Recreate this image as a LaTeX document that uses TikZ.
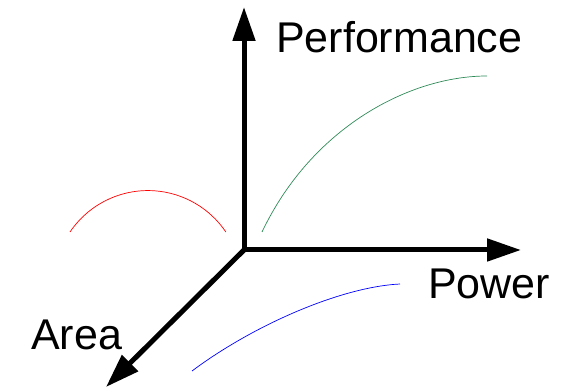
\documentclass[tikz,border=0pt]{standalone}
\usepackage{fontspec}
\setmainfont{Liberation Sans}
\usetikzlibrary{arrows.meta}
\definecolor{curvegreen}{RGB}{46,139,87}
\begin{document}
\begin{tikzpicture}[x=1pt,y=1pt,
		axis/.style={line width=5pt,-{Triangle[length=34pt,width=22pt]}},
		lbl/.style={anchor=base west,inner sep=0pt,font=\fontsize{43}{50}\selectfont},
		curve/.style={line width=0.7pt}]
		\useasboundingbox (0,0) rectangle (567,388);
		%Axes
		\coordinate (O) at (244,138);
		\coordinate (perf) at (244,381);
		\coordinate (pow) at (521,138);
		\coordinate (area) at (106,1);
		\draw[axis] (O)--(perf);
		\draw[axis] (O)--(pow);
		\draw[axis] (O)--(area);
		\node[lbl] (perflbl) at (276,335) {Performance};
		\node[lbl] (powlbl) at (428,89) {Power};
		\node[lbl] (arealbl) at (31,38) {Area};
		%Curves
		\draw[curve,red] (70,156) arc[start angle=146, end angle=34, radius=94];
		\draw[curve,curvegreen] (262,156) .. controls (312,261) and (410,312) .. (487,312);
		\draw[curve,blue] (192,17) .. controls (252,62) and (340,101) .. (400,104);
		\end{tikzpicture}
\end{document}
